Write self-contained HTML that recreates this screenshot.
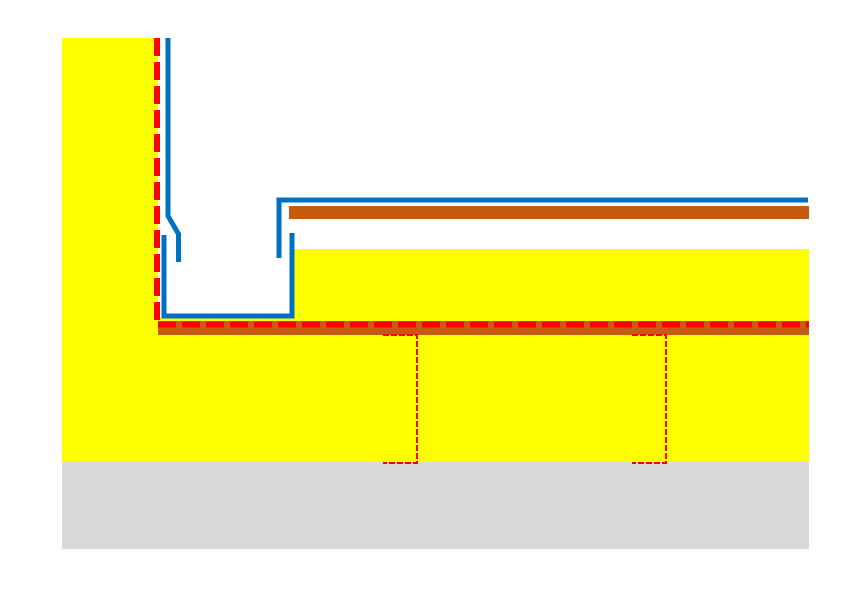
<!DOCTYPE html>
<html><head><style>html,body{margin:0;padding:0;background:#fff}svg{display:block}</style></head>
<body>
<svg width="849" height="601" viewBox="0 0 849 601" xmlns="http://www.w3.org/2000/svg">
<rect x="62" y="462" width="747" height="87" fill="#d9d9d9"/>
<rect x="62" y="38" width="96" height="424" fill="#ffff00"/>
<rect x="158" y="318" width="651" height="144" fill="#ffff00"/>
<rect x="294" y="249" width="515" height="72" fill="#ffff00"/>
<rect x="158" y="321" width="651" height="14" fill="#c55a11"/>
<line x1="158" y1="324.5" x2="809" y2="324.5" stroke="#ff0000" stroke-width="6" stroke-dasharray="18 6"/>
<line x1="157" y1="38" x2="157" y2="320" stroke="#ff0000" stroke-width="6" stroke-dasharray="18 6"/>
<rect x="289" y="206" width="520" height="13" fill="#c55a11"/>
<g fill="none" stroke="#0070c0" stroke-width="5">
<polyline points="168,38 168,216 178.5,234 178.5,262"/>
<polyline points="164,235 164,316 292,316 292,233"/>
<polyline points="279,258 279,200 808,200"/>
</g>
<g fill="none" stroke="#ff0000" stroke-width="2" stroke-dasharray="6 2">
<polyline points="383,335 417,335 417,463 383,463"/>
<polyline points="632,335 666,335 666,463 632,463"/>
</g>
</svg>
</body></html>
